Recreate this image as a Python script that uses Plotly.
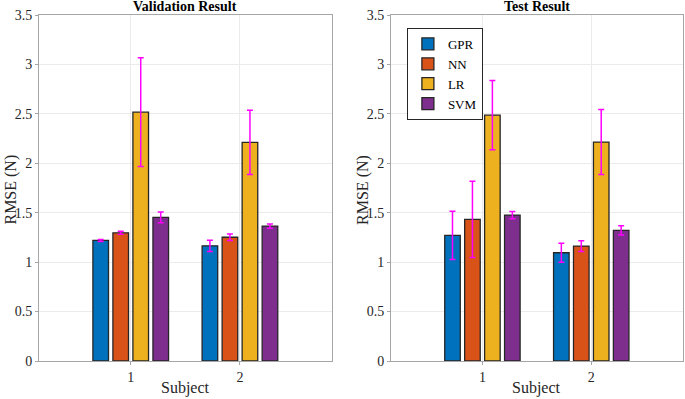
import plotly.graph_objects as go

subjects = [1, 2]
methods = ["GPR", "NN", "LR", "SVM"]
colors = ["#0072BD", "#D95319", "#EDB120", "#7E2F8E"]

val_means = {
    "GPR": [1.22, 1.165],
    "NN": [1.297, 1.252],
    "LR": [2.517, 2.212],
    "SVM": [1.453, 1.365],
}
val_err = {
    "GPR": [0.01, 0.057],
    "NN": [0.015, 0.032],
    "LR": [0.55, 0.325],
    "SVM": [0.055, 0.022],
}
test_means = {
    "GPR": [1.271, 1.095],
    "NN": [1.433, 1.163],
    "LR": [2.487, 2.215],
    "SVM": [1.476, 1.321],
}
test_err = {
    "GPR": [0.245, 0.096],
    "NN": [0.385, 0.054],
    "LR": [0.35, 0.328],
    "SVM": [0.037, 0.047],
}

FONT = "Liberation Serif"
fig = go.Figure()

for panel, (means, errs) in enumerate([(val_means, val_err), (test_means, test_err)]):
    xa = "x" if panel == 0 else "x2"
    ya = "y" if panel == 0 else "y2"
    for m, c in zip(methods, colors):
        fig.add_trace(go.Bar(
            x=subjects, y=means[m], name=m,
            marker=dict(color=c, line=dict(color="#262626", width=1.3)),
            error_y=dict(type="data", array=errs[m], color="#FF00FF", thickness=1.5, width=3),
            xaxis=xa, yaxis=ya, showlegend=(panel == 1),
        ))

axis_common = dict(
    showline=True, linecolor="#A6A6A6", linewidth=1, mirror=True,
    ticks="outside", ticklen=3, tickcolor="#A6A6A6",
    showgrid=True, gridcolor="#EBEBEB", gridwidth=1,
    zeroline=False, automargin=False,
    tickfont=dict(family=FONT, size=14, color="#262626"),
)

fig.update_layout(
    width=685, height=399,
    margin=dict(l=0, r=0, t=0, b=0, pad=0),
    paper_bgcolor="white", plot_bgcolor="white",
    barmode="group", bargap=0.267, bargroupgap=0.22,
    xaxis=dict(domain=[0.0569, 0.4842], range=[0.16, 2.84], tickvals=[1, 2], anchor="y", **axis_common),
    yaxis=dict(domain=[0.0952, 0.9624], range=[0, 3.5], dtick=0.5, anchor="x", **axis_common),
    xaxis2=dict(domain=[0.5708, 0.9966], range=[0.16, 2.84], tickvals=[1, 2], anchor="y2", **axis_common),
    yaxis2=dict(domain=[0.0952, 0.9624], range=[0, 3.5], dtick=0.5, anchor="x2", **axis_common),
    legend=dict(
        x=0.594, y=0.93, xanchor="left", yanchor="top",
        bgcolor="white", bordercolor="#262626", borderwidth=1,
        font=dict(family=FONT, size=13, color="#000"),
        tracegroupgap=0, itemwidth=30,
    ),
    annotations=[
        dict(text="<b>Validation Result</b>", x=0.2705, y=1.008, xref="paper", yref="paper",
             xanchor="center", yanchor="top", showarrow=False, font=dict(family=FONT, size=14, color="#000")),
        dict(text="<b>Test Result</b>", x=0.7837, y=1.008, xref="paper", yref="paper",
             xanchor="center", yanchor="top", showarrow=False, font=dict(family=FONT, size=14, color="#000")),
        dict(text="Subject", x=0.2705, y=0.0, xref="paper", yref="paper",
             xanchor="center", yanchor="bottom", showarrow=False, font=dict(family=FONT, size=16, color="#262626")),
        dict(text="Subject", x=0.7837, y=0.0, xref="paper", yref="paper",
             xanchor="center", yanchor="bottom", showarrow=False, font=dict(family=FONT, size=16, color="#262626")),
        dict(text="RMSE (N)", x=0.0, y=0.525, xref="paper", yref="paper", textangle=-90,
             xanchor="left", yanchor="middle", showarrow=False, font=dict(family=FONT, size=16, color="#262626")),
        dict(text="RMSE (N)", x=0.513, y=0.525, xref="paper", yref="paper", textangle=-90,
             xanchor="left", yanchor="middle", showarrow=False, font=dict(family=FONT, size=16, color="#262626")),
    ],
)

fig.write_html("out.html", config={"displayModeBar": False},
               post_script="document.body.style.margin='0';document.body.style.overflow='hidden';")
